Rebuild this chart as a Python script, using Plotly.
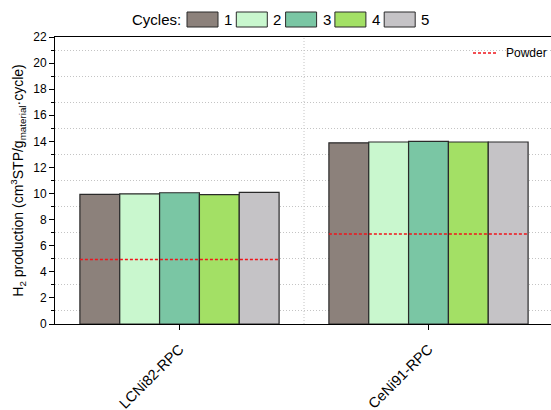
import plotly.graph_objects as go

categories = ["LCNi82-RPC", "CeNi91-RPC"]
cycle_names = ["1", "2", "3", "4", "5"]
cycle_values = [
    [9.94, 13.89],
    [9.98, 13.95],
    [10.06, 14.0],
    [9.91, 13.95],
    [10.09, 13.95],
]
powder_values = [4.95, 6.9]
colors = ["#8C817B", "#C9F7CE", "#7AC6A4", "#A3E065", "#C5C3C6"]

W, H = 551, 410
ML, MR, MT, MB = 55, 0, 37, 86
PW, PH = W - ML - MR, H - MT - MB
FONT = "Liberation Sans, Arial, sans-serif"


def px(x):
    return (x - ML) / PW


def py(y):
    return (MT + PH - y) / PH


fig = go.Figure()
xs = list(range(len(categories)))
for name, vals, col in zip(cycle_names, cycle_values, colors):
    fig.add_trace(go.Bar(
        x=xs, y=vals, name=name, marker=dict(color=col, line=dict(color="#2a2a2a", width=1.2)),
        showlegend=False,
    ))

group_half = 0.4
px_x, px_y = [], []
for i, v in enumerate(powder_values):
    px_x += [i - group_half, i + group_half, None]
    px_y += [v, v, None]
fig.add_trace(go.Scatter(
    x=px_x, y=px_y, mode="lines", name="Powder",
    line=dict(color="#F0141B", width=1.4, dash="3px,2px"), showlegend=False,
))

shapes = []
annotations = []
# vertical separator grid line
shapes.append(dict(type="line", xref="x", yref="paper", x0=0.5, x1=0.5, y0=0, y1=1,
                   line=dict(color="#c4c4c4", width=1, dash="1px,2px"), layer="below"))
# Cycles legend
annotations.append(dict(text="Cycles:", xref="paper", yref="paper", x=px(183), y=py(19.5),
                        xanchor="right", yanchor="middle", showarrow=False,
                        font=dict(size=15, color="black", family=FONT)))
for k, (name, col) in enumerate(zip(cycle_names, colors)):
    x0 = 187 + k * 49.3
    shapes.append(dict(type="rect", xref="paper", yref="paper", x0=px(x0), x1=px(x0 + 31),
                       y0=py(27), y1=py(12), fillcolor=col,
                       line=dict(color="#2a2a2a", width=1)))
    annotations.append(dict(text=name, xref="paper", yref="paper", x=px(x0 + 35), y=py(19.5),
                            xanchor="left", yanchor="middle", showarrow=False,
                            font=dict(size=15, color="black", family=FONT)))
# Powder legend
shapes.append(dict(type="line", xref="paper", yref="paper", x0=px(473), x1=px(498),
                   y0=py(53), y1=py(53), line=dict(color="#F0141B", width=1.4, dash="3px,2px")))
annotations.append(dict(text="Powder", xref="paper", yref="paper", x=px(504), y=py(53),
                        xanchor="left", yanchor="middle", showarrow=False,
                        font=dict(size=12, color="black", family=FONT)))

fig.update_layout(
    width=W, height=H,
    margin=dict(l=ML, r=MR, t=MT, b=MB, pad=0, autoexpand=False),
    paper_bgcolor="white", plot_bgcolor="white",
    barmode="group", bargap=0.2, bargroupgap=0,
    font=dict(family=FONT, color="black"),
    shapes=shapes, annotations=annotations,
    xaxis=dict(
        range=[-0.5, -0.5 + PW / 249.0],
        tickvals=xs, ticktext=categories, tickangle=-45,
        tickfont=dict(size=14.5, color="black"), ticklabelstandoff=5,
        ticks="outside", ticklen=5, tickcolor="black",
        showline=True, linecolor="black", linewidth=1, mirror=True,
        showgrid=False, zeroline=False, automargin=False,
    ),
    yaxis=dict(
        range=[0, 22], dtick=2, tick0=0,
        tickfont=dict(size=12, color="black"),
        ticks="outside", ticklen=5, tickcolor="black",
        showline=True, linecolor="black", linewidth=1,
        showgrid=False, zeroline=False, automargin=False,
        minor=dict(dtick=1, tick0=0, ticks="outside", ticklen=3, tickcolor="black",
                   showgrid=True, gridcolor="#c4c4c4", griddash="1px,2px", gridwidth=1),
        title=dict(text="H<sub>2</sub> production (cm<sup>3</sup>STP/g<sub>material</sub>·cycle)",
                   font=dict(size=14, color="black"), standoff=6),
    ),
)

fig.write_html("out.html", config={"displayModeBar": False},
               post_script="document.body.style.margin='0';document.body.style.overflow='hidden';")
